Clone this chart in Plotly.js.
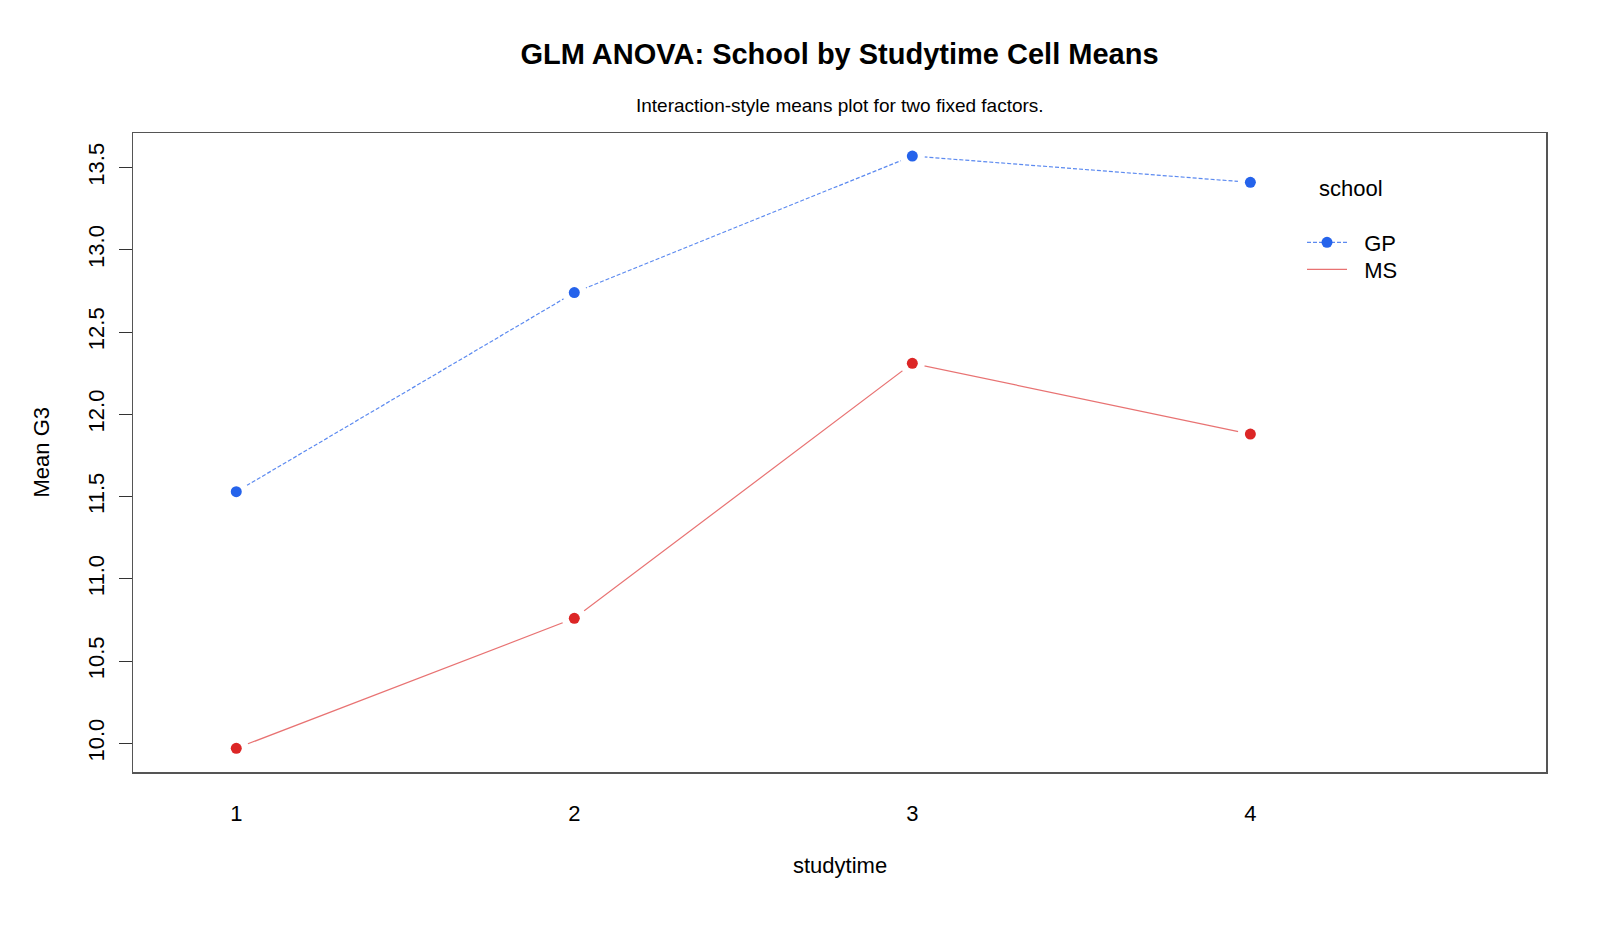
<!DOCTYPE html>
<html>
<head>
<meta charset="utf-8">
<script src="https://cdn.plot.ly/plotly-3.0.1.min.js"></script>
<style>
  html, body { margin: 0; padding: 0; background: #ffffff; }
  #chart { width: 1600px; height: 933px; }
</style>
</head>
<body>
<div id="chart"></div>
<script>
// Cell means of final grade (G3) by study time level, per school
const studytime = [1, 2, 3, 4];
const gpMeans = [11.53, 12.74, 13.57, 13.41];
const msMeans = [9.97, 10.76, 12.31, 11.88];
const yTickVals = [10.0, 10.5, 11.0, 11.5, 12.0, 12.5, 13.0, 13.5];
const yTickText = ['10.0', '10.5', '11.0', '11.5', '12.0', '12.5', '13.0', '13.5'];

const FONT = 'Liberation Sans, Arial, sans-serif';
const gpColor = '#2563eb';
const msColor = '#dc2626';

// Plot-area geometry in pixels, used to place the free-standing texts
const W = 1600, H = 933;
const M = { l: 133, r: 54, t: 133, b: 161 };
const plotW = W - M.l - M.r;
const plotH = H - M.t - M.b;
const px2x = (px) => (px - M.l) / plotW;
const px2y = (py) => (H - M.b - py) / plotH;

// Points sit on white discs so connecting lines stop short of them
const halo = (ys) => ({
  x: studytime, y: ys, mode: 'markers', type: 'scatter', showlegend: false,
  hoverinfo: 'skip',
  marker: { color: '#ffffff', size: 25, line: { width: 0 } }
});
const dots = (ys, color, name) => ({
  x: studytime, y: ys, mode: 'markers', type: 'scatter', showlegend: false,
  name: name,
  marker: { color: color, size: 11, line: { width: 0 } }
});

const traces = [
  {
    x: studytime, y: gpMeans, name: '\u00a0\u00a0GP', type: 'scatter', mode: 'lines+markers',
    legend: 'legend',
    line: { color: 'rgba(37,99,235,0.75)', width: 1.2, dash: '4px,2px' },
    marker: { color: gpColor, size: 11 }
  },
  {
    x: studytime, y: msMeans, name: '\u00a0\u00a0MS', type: 'scatter', mode: 'lines',
    legend: 'legend2',
    line: { color: 'rgba(220,38,38,0.65)', width: 1.2 }
  },
  halo(gpMeans),
  halo(msMeans),
  dots(gpMeans, gpColor, 'GP'),
  dots(msMeans, msColor, 'MS')
];

const legendBase = {
  xanchor: 'left', xref: 'paper', yanchor: 'top', yref: 'paper',
  bgcolor: 'rgba(0,0,0,0)', borderwidth: 0,
  font: { family: FONT, size: 22, color: '#000000' },
  itemwidth: 40
};

const layout = {
  width: W,
  height: H,
  paper_bgcolor: '#ffffff',
  plot_bgcolor: '#ffffff',
  font: { family: FONT, color: '#000000', size: 22 },
  margin: M,
  title: {
    text: '<b>GLM ANOVA: School by Studytime Cell Means</b>',
    font: { family: FONT, size: 29, color: '#000000' },
    x: 0.5, xref: 'paper', xanchor: 'center',
    y: 1 - 54 / H, yref: 'container', yanchor: 'middle'
  },
  xaxis: {
    range: [0.6945, 4.8746],
    tickvals: studytime,
    ticktext: studytime.map(String),
    ticks: '',
    ticklabelstandoff: 21,
    showgrid: false,
    zeroline: false,
    showline: true,
    mirror: true,
    linecolor: '#555555',
    linewidth: 1.5,
    tickfont: { family: FONT, size: 22, color: '#000000' },
    fixedrange: true
  },
  yaxis: {
    range: [9.826, 13.71],
    tickvals: yTickVals,
    ticktext: yTickText,
    ticks: 'outside',
    ticklen: 13,
    tickwidth: 1,
    tickcolor: '#333333',
    tickangle: -90,
    ticklabelstandoff: 6,
    showgrid: false,
    zeroline: false,
    showline: true,
    mirror: true,
    linecolor: '#555555',
    linewidth: 1.5,
    tickfont: { family: FONT, size: 22, color: '#000000' },
    fixedrange: true
  },
  showlegend: true,
  legend: Object.assign({}, legendBase, { x: px2x(1302), y: px2y(221.5) }),
  legend2: Object.assign({}, legendBase, { x: px2x(1302), y: px2y(248.5) }),
  annotations: [
    {
      text: 'Interaction-style means plot for two fixed factors.',
      xref: 'paper', yref: 'paper', x: 0.5, y: px2y(105),
      xanchor: 'center', yanchor: 'middle', showarrow: false,
      font: { family: FONT, size: 19, color: '#000000' }
    },
    {
      text: 'studytime',
      xref: 'paper', yref: 'paper', x: 0.5, y: px2y(866),
      xanchor: 'center', yanchor: 'middle', showarrow: false,
      font: { family: FONT, size: 22, color: '#000000' }
    },
    {
      text: 'Mean G3',
      xref: 'paper', yref: 'paper', x: px2x(41), y: 0.5,
      xanchor: 'center', yanchor: 'middle', showarrow: false, textangle: -90,
      font: { family: FONT, size: 22, color: '#000000' }
    },
    {
      text: 'school',
      xref: 'paper', yref: 'paper', x: px2x(1351), y: px2y(188),
      xanchor: 'center', yanchor: 'middle', showarrow: false,
      font: { family: FONT, size: 22, color: '#000000' }
    }
  ]
};

Plotly.newPlot('chart', traces, layout, { staticPlot: true, displayModeBar: false });
</script>
</body>
</html>
